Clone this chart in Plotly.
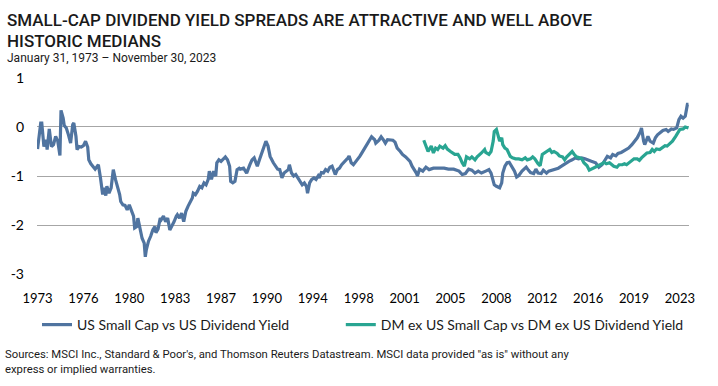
import plotly.graph_objects as go

us_dates = [
"1973-01","1973-02","1973-04","1973-05","1973-07","1973-09","1973-10","1973-12",
"1974-02","1974-04","1974-06","1974-08","1974-10","1974-11","1975-01","1975-02",
"1975-04","1975-06","1975-08","1975-10","1975-11","1976-01","1976-02","1976-04",
"1976-06","1976-08","1976-10","1976-12","1977-01","1977-03","1977-05","1977-07",
"1977-09","1977-10","1977-12","1978-02","1978-03","1978-05","1978-06","1978-08",
"1978-10","1978-12","1979-02","1979-04","1979-06","1979-07","1979-09","1979-11",
"1980-01","1980-03","1980-05","1980-07","1980-08","1980-10","1980-11","1981-01",
"1981-03","1981-05","1981-06","1981-07","1981-09","1981-11","1982-01","1982-03",
"1982-04","1982-06","1982-08","1982-09","1982-11","1983-01","1983-03","1983-05",
"1983-07","1983-09","1983-11","1983-12","1984-02","1984-04","1984-06","1984-08",
"1984-10","1984-12","1985-02","1985-03","1985-05","1985-07","1985-09","1985-11",
"1986-01","1986-03","1986-05","1986-06","1986-08","1986-10","1986-12","1987-01",
"1987-03","1987-05","1987-07","1987-09","1987-11","1988-01","1988-02","1988-04",
"1988-06","1988-08","1988-10","1988-11","1989-02","1989-05","1989-08","1989-10",
"1989-12","1990-03","1990-05","1990-07","1990-10","1990-11","1991-01","1991-03",
"1991-06","1991-08","1991-10","1991-12","1992-02","1992-04","1992-06","1992-08",
"1992-09","1992-11","1993-01","1993-03","1993-05","1993-07","1993-09","1993-11",
"1994-01","1994-02","1994-04","1994-06","1994-08","1994-10","1994-12","1995-01",
"1995-03","1995-05","1995-07","1995-09","1995-11","1996-01","1996-02","1996-04",
"1996-06","1996-08","1996-10","1996-12","1997-02","1997-04","1997-05","1997-07",
"1997-09","1997-11","1998-01","1998-03","1998-05","1998-07","1998-08","1998-10",
"1998-12","1999-02","1999-05","1999-06","1999-09","1999-11","2000-01","2000-03",
"2000-05","2000-08","2000-10","2000-12","2001-02","2001-05","2001-07","2001-10",
"2001-12","2002-02","2002-04","2002-06","2002-08","2002-09","2002-11","2003-02",
"2003-05","2003-08","2003-12","2004-05","2004-10","2005-02","2005-07","2005-12",
"2006-03","2006-06","2006-09","2006-12","2007-03","2007-06","2007-09","2008-01",
"2008-04","2008-06","2008-08","2008-09","2008-11","2009-02","2009-04","2009-05",
"2009-07","2009-09","2009-11","2010-01","2010-04","2010-06","2010-08","2010-11",
"2011-01","2011-03","2011-05","2011-07","2011-10","2011-12","2012-02","2012-05",
"2012-07","2012-10","2012-12","2013-03","2013-06","2013-09","2013-12","2014-03",
"2014-07","2014-10","2015-01","2015-04","2015-07","2015-10","2016-01","2016-04",
"2016-08","2016-11","2017-02","2017-05","2017-07","2017-10","2017-12","2018-03",
"2018-05","2018-08","2018-12","2019-03","2019-06","2019-09","2019-11","2020-02",
"2020-03","2020-05","2020-06","2020-09","2020-11","2021-02","2021-04","2021-06",
"2021-09","2021-11","2022-02","2022-04","2022-07","2022-09","2022-12","2023-02",
"2023-04","2023-06","2023-08","2023-10","2023-11"]

us_values = [
-0.45,-0.25,0.08,0.08,-0.40,-0.26,-0.46,-0.04,
-0.40,-0.36,-0.19,-0.29,-0.58,0.34,0.18,0.03,
-0.02,-0.16,-0.33,0.05,0.08,-0.19,-0.46,-0.40,
-0.41,-0.38,-0.29,-0.41,-0.67,-0.75,-0.80,-0.86,
-0.80,-0.77,-1.04,-1.38,-1.24,-1.40,-1.21,-1.35,
-1.24,-0.87,-1.07,-1.21,-1.38,-1.52,-1.59,-1.60,
-1.69,-1.59,-1.69,-1.82,-2.06,-2.03,-1.86,-2.08,
-2.27,-2.37,-2.65,-2.50,-2.33,-2.23,-2.10,-2.03,
-2.16,-2.08,-1.86,-1.89,-1.82,-1.93,-1.86,-2.10,
-2.03,-1.93,-1.82,-1.79,-1.86,-1.76,-1.93,-1.72,
-1.62,-1.55,-1.45,-1.35,-1.38,-1.31,-1.21,-1.24,
-1.14,-1.18,-1.07,-0.90,-1.07,-0.90,-1.00,-0.73,
-0.67,-0.70,-0.65,-0.61,-0.67,-0.80,-1.11,-1.14,
-1.11,-0.87,-0.84,-0.86,-0.84,-0.94,-0.77,-0.67,
-0.63,-0.80,-0.67,-0.53,-0.36,-0.29,-0.39,-0.60,
-0.73,-0.80,-0.86,-0.87,-1.04,-0.94,-0.90,-0.87,
-0.77,-0.94,-1.00,-0.97,-1.04,-1.11,-1.18,-1.14,
-1.21,-1.35,-1.14,-1.07,-1.04,-1.07,-1.00,-1.04,
-0.93,-0.94,-0.87,-0.90,-0.82,-0.80,-0.87,-0.97,
-0.87,-0.84,-0.77,-0.73,-0.68,-0.63,-0.59,-0.73,
-0.77,-0.72,-0.65,-0.60,-0.53,-0.46,-0.43,-0.36,
-0.29,-0.20,-0.26,-0.33,-0.27,-0.20,-0.26,-0.33,
-0.26,-0.27,-0.27,-0.31,-0.43,-0.50,-0.56,-0.61,
-0.65,-0.70,-0.80,-0.86,-0.94,-1.00,-0.86,-0.90,
-0.82,-0.87,-0.84,-0.84,-0.84,-0.86,-0.86,-0.90,
-0.97,-0.95,-0.86,-0.88,-0.94,-0.90,-0.94,-0.90,
-0.87,-0.94,-1.07,-1.18,-1.21,-1.24,-1.14,-0.94,
-0.80,-0.73,-0.72,-0.80,-0.90,-1.02,-0.99,-0.90,
-0.86,-0.82,-0.88,-0.93,-0.95,-0.86,-0.94,-0.95,
-0.88,-0.94,-0.90,-0.88,-0.87,-0.84,-0.80,-0.75,
-0.70,-0.67,-0.63,-0.65,-0.63,-0.65,-0.68,-0.70,
-0.73,-0.82,-0.77,-0.68,-0.60,-0.63,-0.56,-0.59,
-0.54,-0.52,-0.46,-0.43,-0.36,-0.29,-0.22,-0.09,
-0.02,-0.29,-0.36,-0.19,-0.29,-0.33,-0.22,-0.16,
-0.11,-0.07,-0.05,-0.09,-0.04,-0.05,-0.02,0.15,
0.22,0.18,0.22,0.46,0.46]

dm_dates = [
"2003-03","2003-05","2003-07","2003-10","2003-12","2004-02","2004-04","2004-06",
"2004-09","2004-11","2005-01","2005-04","2005-06","2005-08","2005-11","2006-01",
"2006-03","2006-05","2006-07","2006-10","2006-12","2007-03","2007-05","2007-07",
"2007-09","2007-12","2008-01","2008-04","2008-06","2008-08","2008-09","2008-11",
"2008-12","2009-02","2009-04","2009-05","2009-07","2009-09","2009-12","2010-02",
"2010-05","2010-08","2010-11","2011-02","2011-04","2011-07","2011-09","2011-11",
"2012-02","2012-04","2012-06","2012-08","2012-10","2013-01","2013-03","2013-05",
"2013-08","2013-10","2014-01","2014-03","2014-05","2014-07","2014-10","2014-12",
"2015-02","2015-05","2015-07","2015-09","2015-12","2016-02","2016-04","2016-07",
"2016-09","2016-12","2017-02","2017-04","2017-06","2017-09","2017-11","2018-01",
"2018-04","2018-06","2018-09","2018-11","2019-01","2019-04","2019-06","2019-08",
"2019-11","2020-01","2020-03","2020-06","2020-08","2020-11","2021-01","2021-03",
"2021-05","2021-08","2021-10","2022-01","2022-03","2022-06","2022-08","2022-11",
"2023-01","2023-03","2023-06","2023-08","2023-11"]

dm_values = [
-0.27,-0.39,-0.50,-0.39,-0.53,-0.43,-0.46,-0.39,
-0.43,-0.38,-0.45,-0.50,-0.53,-0.56,-0.56,-0.63,
-0.73,-0.80,-0.61,-0.65,-0.61,-0.67,-0.61,-0.56,
-0.53,-0.46,-0.52,-0.56,-0.50,-0.29,-0.09,-0.05,
-0.12,-0.29,-0.22,-0.36,-0.43,-0.46,-0.60,-0.63,
-0.65,-0.65,-0.67,-0.63,-0.67,-0.65,-0.61,-0.65,
-0.75,-0.79,-0.56,-0.53,-0.50,-0.46,-0.52,-0.50,
-0.54,-0.59,-0.61,-0.67,-0.61,-0.56,-0.50,-0.56,
-0.61,-0.63,-0.65,-0.73,-0.79,-0.88,-0.86,-0.82,
-0.80,-0.77,-0.75,-0.72,-0.75,-0.73,-0.77,-0.80,
-0.82,-0.77,-0.77,-0.75,-0.77,-0.72,-0.67,-0.65,
-0.65,-0.68,-0.63,-0.56,-0.53,-0.52,-0.46,-0.50,
-0.45,-0.46,-0.43,-0.38,-0.39,-0.34,-0.29,-0.19,
-0.11,-0.05,-0.04,0.00,-0.02]

tick_dates = ["1973-01","1976-08","1980-03","1983-10","1987-05","1990-12","1994-07",
              "1998-02","2001-09","2005-04","2008-11","2012-06","2016-01","2019-08","2023-03"]
tick_labels = ["1973","1976","1980","1983","1987","1990","1994","1998","2001","2005",
               "2008","2012","2016","2019","2023"]

us_name = "US Small Cap vs US Dividend Yield"
dm_name = "DM ex US Small Cap vs DM ex US Dividend Yield"

title_line1 = "SMALL-CAP DIVIDEND YIELD SPREADS ARE ATTRACTIVE AND WELL ABOVE"
title_line2 = "HISTORIC MEDIANS"
subtitle_text = "January 31, 1973 – November 30, 2023"
source_text = ("Sources: MSCI Inc., Standard &amp; Poor's, and Thomson Reuters Datastream. "
               "MSCI data provided \"as is\" without any<br>express or implied warranties.")

BLUE = "#5074A0"
GREEN = "#29A592"

fig = go.Figure()
fig.add_trace(go.Scatter(x=us_dates, y=us_values, mode="lines",
                         name=us_name + "\u00a0" * 13,
                         line=dict(color=BLUE, width=3.2)))
fig.add_trace(go.Scatter(x=dm_dates, y=dm_values, mode="lines",
                         name=dm_name,
                         line=dict(color=GREEN, width=3.2)))

W, H = 718, 386
L, R, T, B = 37, 29, 77, 111
pw, ph = W - L - R, H - T - B

def px_x(x):
    return (x - L) / pw

def px_y(y):
    return (H - B - y) / ph

title_font = dict(family="Roboto", size=17, color="#1a1a1a", weight=500)

fig.update_layout(
    width=W, height=H,
    margin=dict(l=L, r=R, t=T, b=B, autoexpand=False),
    paper_bgcolor="white", plot_bgcolor="white",
    font=dict(family="Lato", color="#000000"),
    showlegend=True,
    legend=dict(orientation="h", x=0.5, xanchor="center", xref="paper",
                y=px_y(325), yanchor="middle",
                font=dict(family="Lato", size=14, color="#1a1a1a"),
                itemwidth=30, tracegroupgap=0, bgcolor="rgba(0,0,0,0)"),
    xaxis=dict(type="date", range=["1972-12-16", "2023-11-16"], showgrid=False,
               zeroline=False, showline=False, ticks="",
               tickmode="array", tickvals=tick_dates, ticktext=tick_labels,
               tickfont=dict(family="Lato", size=13, color="#000000"),
               ticklabelstandoff=14),
    yaxis=dict(range=[-3.02, 1.02], tickmode="array", tickvals=[-3, -2, -1, 0, 1],
               ticktext=["-3", "-2", "-1", "0", "1"],
               showgrid=True, gridcolor="#a6a6a6", gridwidth=1, zeroline=False,
               showline=False, ticks="", tickfont=dict(family="Lato", size=14, color="#000000"),
               ticklabelstandoff=12),
    annotations=[
        dict(text=title_line1, x=px_x(5), y=px_y(20), xref="paper", yref="paper",
             xanchor="left", yanchor="middle", showarrow=False, align="left",
             font=title_font),
        dict(text=title_line2, x=px_x(5), y=px_y(41), xref="paper", yref="paper",
             xanchor="left", yanchor="middle", showarrow=False, align="left",
             font=title_font),
        dict(text=subtitle_text, x=px_x(5), y=px_y(58), xref="paper", yref="paper",
             xanchor="left", yanchor="middle", showarrow=False, align="left",
             font=dict(family="Roboto", size=12, color="#1a1a1a")),
        dict(text=source_text, x=px_x(3), y=px_y(346), xref="paper", yref="paper",
             xanchor="left", yanchor="top", showarrow=False, align="left",
             font=dict(family="Roboto", size=11.3, color="#1a1a1a")),
    ],
)

fig.write_html("out.html", config={"displayModeBar": False},
               post_script="document.body.style.margin='0';")
